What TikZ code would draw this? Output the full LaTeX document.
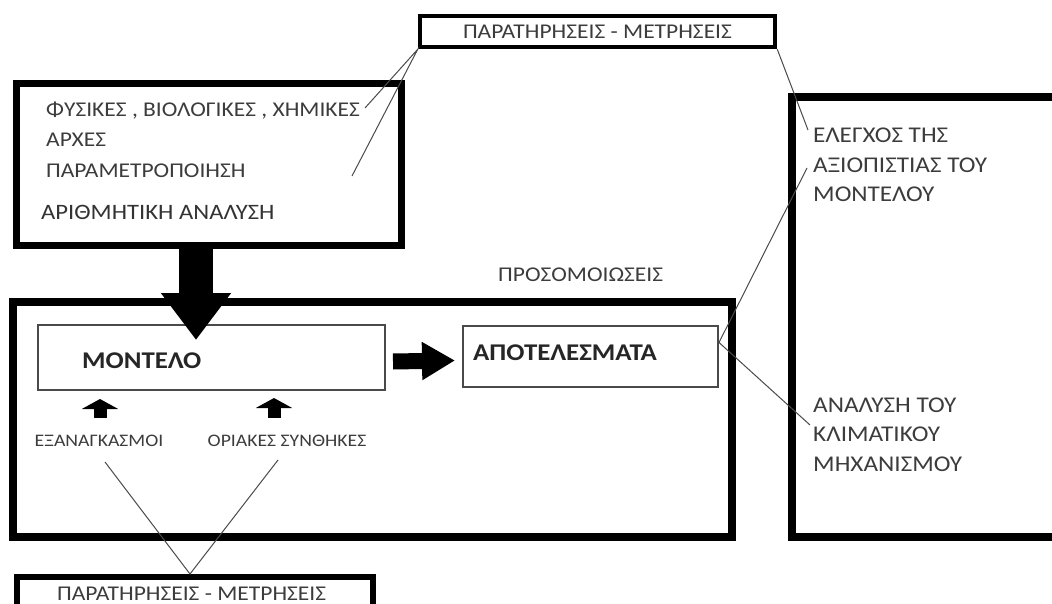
\documentclass[tikz,border=0pt]{standalone}
\usepackage{fontspec}
\setmainfont{Carlito}[FakeStretch=1.12]
\usepackage{tikz}
\usetikzlibrary{positioning,arrows.meta}
\definecolor{ink}{HTML}{3C3C3C}
\definecolor{wire}{HTML}{4A4A4A}

\tikzset{
  frame/.style={draw=black,line width=#1,inner sep=0pt,fill=none},
  plain/.style={draw=wire,line width=2pt,inner sep=0pt},
  txt/.style={inner sep=0pt,anchor=base west,text=ink,font=\fontsize{21}{24}\selectfont},
  side/.style={txt,font=\fontsize{22.5}{26}\selectfont},
  bold/.style={inner sep=0pt,anchor=base west,text=black!85,font=\fontsize{24}{28}\selectfont\bfseries},
  small/.style={inner sep=0pt,anchor=base,text=ink,font=\fontsize{17.6}{20}\selectfont},
  link/.style={draw=wire,line width=1pt},
  uparrow/.style={line width=13pt,-{Triangle[width=36pt,length=10pt]}},
}

\begin{document}
\begin{tikzpicture}[x=1pt,y=-1pt]
  \useasboundingbox (0,0) rectangle (1052,604);

  % boxes
  \node[frame=4.5pt,minimum width=355pt,minimum height=31pt,text=ink,
    font=\fontsize{21}{24}\selectfont] (obs1) at (597.5,31.5) {ΠΑΡΑΤΗΡΗΣΕΙΣ - ΜΕΤΡΗΣΕΙΣ};
  \node[frame=7pt,minimum width=385pt,minimum height=161pt] (phys) at (208.5,164.5) {};
  \node[frame=8pt,minimum width=719pt,minimum height=235pt] (sim) at (372.5,419.5) {};
  \node[frame=7.5pt,minimum width=278pt,minimum height=440pt] (eval) at (931,317) {};
  \node[frame=6pt,minimum width=356pt,minimum height=60pt] (obs2) at (195,607) {};
  \node[plain,minimum width=347pt,minimum height=65pt] (mdl) at (211.5,357.5) {};
  \node[plain,minimum width=255pt,minimum height=61pt] (res) at (590.5,356.5) {};

  % texts
  \node[txt] (t1) at (46,117) {ΦΥΣΙΚΕΣ , ΒΙΟΛΟΓΙΚΕΣ , ΧΗΜΙΚΕΣ};
  \node[txt] (t2) at (46,147) {ΑΡΧΕΣ};
  \node[txt] (t3) at (46,178) {ΠΑΡΑΜΕΤΡΟΠΟΙΗΣΗ};
  \node[txt,font=\fontsize{22}{25}\selectfont,text=black!80] (t4) at (41,220) {ΑΡΙΘΜΗΤΙΚΗ ΑΝΑΛΥΣΗ};
  \node[txt] (simtxt) at (498,281) {ΠΡΟΣΟΜΟΙΩΣΕΙΣ};
  \node[bold] (mdltxt) at (82,368) {ΜΟΝΤΕΛΟ};
  \node[bold] (restxt) at (473,360) {ΑΠΟΤΕΛΕΣΜΑΤΑ};
  \node[small] (frc) at (99,446) {ΕΞΑΝΑΓΚΑΣΜΟΙ};
  \node[small] (bnd) at (287,446) {ΟΡΙΑΚΕΣ ΣΥΝΘΗΚΕΣ};
  \node[side] (chk1) at (813,143) {ΕΛΕΓΧΟΣ ΤΗΣ};
  \node[side] (chk2) at (813,173) {ΑΞΙΟΠΙΣΤΙΑΣ ΤΟΥ};
  \node[side] (chk3) at (813,202) {ΜΟΝΤΕΛΟΥ};
  \node[side] (mech1) at (813,412) {ΑΝΑΛΥΣΗ ΤΟΥ};
  \node[side] (mech2) at (813,441) {ΚΛΙΜΑΤΙΚΟΥ};
  \node[side] (mech3) at (813,471) {ΜΗΧΑΝΙΣΜΟΥ};
  \node[txt] (obs2txt) at (57,600) {ΠΑΡΑΤΗΡΗΣΕΙΣ - ΜΕΤΡΗΣΕΙΣ};

  % free ends of the thin lines
  \coordinate (c1) at (365,108);
  \coordinate (c2) at (352,176);
  \coordinate (c3) at (808,130);
  \coordinate (c4) at (807,168);
  \coordinate (c6) at (810,425);
  \coordinate (c7) at (105,462);
  \coordinate (c8) at (278,460);
  \coordinate (tip) at (196,340);
  \coordinate (f1) at (100,399);
  \coordinate (f2) at (274,398);

  % thin lines
  \draw[link] (c1) -- (obs1.south west) -- (c2);
  \draw[link] (obs1.south east) -- (c3);
  \draw[link] (c4) -- ([yshift=14pt]res.east) -- (c6);
  \draw[link] (c7) -- ([xshift=-5pt]obs2.north) -- (c8);

  % arrows
  \draw[line width=34pt,-{Triangle[width=67pt,length=47pt]}] (tip |- phys.south) -- (tip);
  \draw[line width=16pt,-{Triangle[width=36pt,length=33pt]}]
    ([yshift=-4pt]mdl.east) ++(7,0) -- ([yshift=-4pt,xshift=-7pt]res.west);
  \draw[uparrow] (f1 |- 0,418) -- (f1);
  \draw[uparrow] (f2 |- 0,418) -- (f2);
\end{tikzpicture}
\end{document}
